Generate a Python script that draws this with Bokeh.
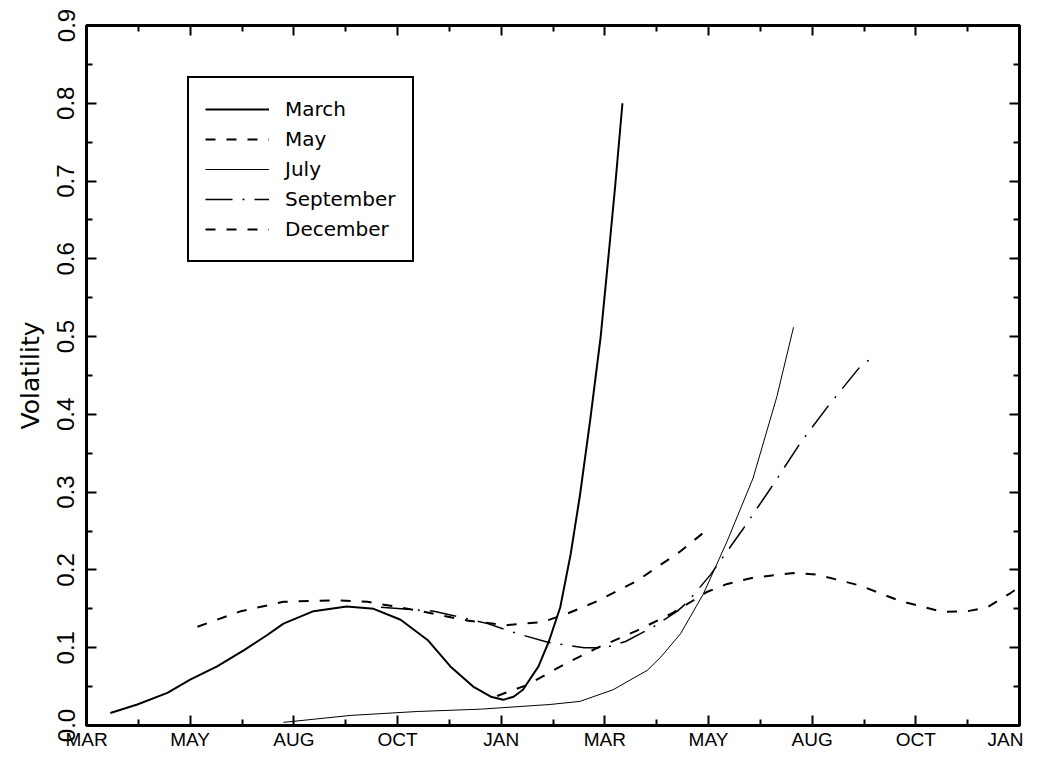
from bokeh.plotting import figure
from bokeh.models import (FixedTicker, NumeralTickFormatter, LinearAxis, Legend, LegendItem, Range1d)
from bokeh.embed import file_html
from bokeh.resources import INLINE

# x positions are in units of the axis tick index (0 = first MAR ... 9 = last JAN)
tick_labels = ["MAR", "MAY", "AUG", "OCT", "JAN", "MAR", "MAY", "AUG", "OCT", "JAN"]

march_x = [0.23, 0.49, 0.78, 1.00, 1.26, 1.52, 1.74, 1.90, 2.19, 2.51, 2.77, 3.03, 3.29, 3.51, 3.73,
           3.90, 4.02, 4.12, 4.21, 4.36, 4.46, 4.57, 4.67, 4.76, 4.86, 4.96, 5.04, 5.10, 5.17]
march_y = [0.016, 0.027, 0.042, 0.059, 0.076, 0.097, 0.116, 0.131, 0.147, 0.153, 0.150, 0.136, 0.110, 0.076, 0.050,
           0.037, 0.033, 0.037, 0.046, 0.076, 0.108, 0.152, 0.220, 0.296, 0.394, 0.500, 0.610, 0.694, 0.800]

may_x = [1.07, 1.49, 1.90, 2.38, 2.71, 3.19, 3.67, 4.05, 4.40, 4.64, 4.93, 5.31, 5.73, 5.99]
may_y = [0.127, 0.147, 0.159, 0.161, 0.159, 0.148, 0.135, 0.129, 0.133, 0.144, 0.160, 0.186, 0.224, 0.252]

july_x = [1.90, 2.55, 3.19, 3.80, 4.47, 4.76, 5.08, 5.41, 5.54, 5.73, 5.95, 6.18, 6.43, 6.66, 6.82]
july_y = [0.004, 0.013, 0.018, 0.021, 0.027, 0.031, 0.046, 0.071, 0.088, 0.118, 0.169, 0.237, 0.318, 0.423, 0.512]

sept_x = [2.84, 3.35, 3.87, 4.16, 4.45, 4.80, 5.00, 5.20, 5.47, 5.70, 5.80, 6.02, 6.34, 6.60, 6.89, 7.15, 7.46, 7.61]
sept_y = [0.152, 0.147, 0.131, 0.118, 0.107, 0.100, 0.100, 0.108, 0.127, 0.147, 0.159, 0.194, 0.254, 0.305,
          0.364, 0.410, 0.461, 0.476]

dec_x = [3.96, 4.25, 4.60, 4.93, 5.31, 5.66, 5.99, 6.18, 6.43, 6.82, 7.05, 7.46, 7.85, 8.26, 8.50, 8.69, 8.91, 9.00]
dec_y = [0.038, 0.052, 0.078, 0.100, 0.122, 0.145, 0.172, 0.182, 0.190, 0.196, 0.194, 0.180, 0.160, 0.146,
         0.147, 0.152, 0.170, 0.178]

y_ticks = [round(0.1 * i, 1) for i in range(10)]
y_minor = [round(0.05 + 0.1 * i, 2) for i in range(9)]
x_ticks = list(range(10))
x_minor = [i + 0.5 for i in range(9)]

p = figure(width=1023, height=752, output_backend="svg", toolbar_location=None,
           x_range=Range1d(0, 9), y_range=Range1d(0, 0.9),
           min_border_left=86, min_border_right=4, min_border_top=25, min_border_bottom=18)
p.xgrid.visible = False
p.ygrid.visible = False
p.outline_line_color = "black"
p.outline_line_width = 3
p.background_fill_color = "white"
p.border_fill_color = "white"

xt = FixedTicker(ticks=x_ticks, minor_ticks=x_minor)
yt = FixedTicker(ticks=y_ticks, minor_ticks=y_minor)

def style_axis(ax):
    ax.axis_line_width = 3
    ax.axis_line_color = "black"
    ax.major_tick_in = 10
    ax.major_tick_out = 0
    ax.minor_tick_in = 6
    ax.minor_tick_out = 0
    ax.major_tick_line_width = 2
    ax.minor_tick_line_width = 2
    ax.major_tick_line_color = "black"
    ax.minor_tick_line_color = "black"

xa = p.xaxis[0]
xa.ticker = xt
xa.major_label_overrides = {i: lab for i, lab in enumerate(tick_labels)}
xa.major_label_text_font = "Liberation Sans"
xa.major_label_text_font_size = "19px"
xa.major_label_text_color = "black"
xa.major_label_standoff = 3
style_axis(xa)

ya = p.yaxis[0]
ya.ticker = yt
ya.formatter = NumeralTickFormatter(format="0.0")
ya.major_label_orientation = "vertical"
ya.major_label_text_font = "Liberation Sans"
ya.major_label_text_font_size = "24px"
ya.major_label_text_color = "black"
ya.major_label_standoff = 12
ya.axis_label = "Volatility"
ya.axis_label_text_font = "DejaVu Sans"
ya.axis_label_text_font_size = "25px"
ya.axis_label_text_font_style = "normal"
ya.axis_label_text_color = "black"
ya.axis_label_standoff = 10
style_axis(ya)

top = LinearAxis(ticker=xt, major_label_text_font_size="0px", major_label_standoff=0)
style_axis(top)
p.add_layout(top, "above")
right = LinearAxis(ticker=yt, major_label_text_font_size="0px", major_label_standoff=0)
style_axis(right)
p.add_layout(right, "right")

r_mar = p.line(march_x, march_y, line_color="black", line_width=2)
r_may = p.line(may_x, may_y, line_color="black", line_width=2, line_dash="10 11")
r_jul = p.line(july_x, july_y, line_color="black", line_width=1)
r_sep = p.line(sept_x, sept_y, line_color="black", line_width=1.5, line_dash="27 10 2 10")
r_dec = p.line(dec_x, dec_y, line_color="black", line_width=2, line_dash="10 11")

legend = Legend(items=[
    LegendItem(label="March", renderers=[r_mar]),
    LegendItem(label="May", renderers=[r_may]),
    LegendItem(label="July", renderers=[r_jul]),
    LegendItem(label="September", renderers=[r_sep]),
    LegendItem(label="December", renderers=[r_dec]),
], location=(101, 463))
legend.label_text_font = "DejaVu Sans"
legend.label_text_font_size = "20px"
legend.label_text_color = "black"
legend.glyph_width = 64
legend.glyph_height = 30
legend.label_height = 30
legend.label_standoff = 16
legend.spacing = 0
legend.padding = 16
legend.margin = 0
legend.border_line_color = "black"
legend.border_line_alpha = 1
legend.border_line_width = 2
legend.background_fill_color = "white"
legend.background_fill_alpha = 1
p.add_layout(legend, "center")

open("out.html", "w").write(file_html(p, INLINE))
